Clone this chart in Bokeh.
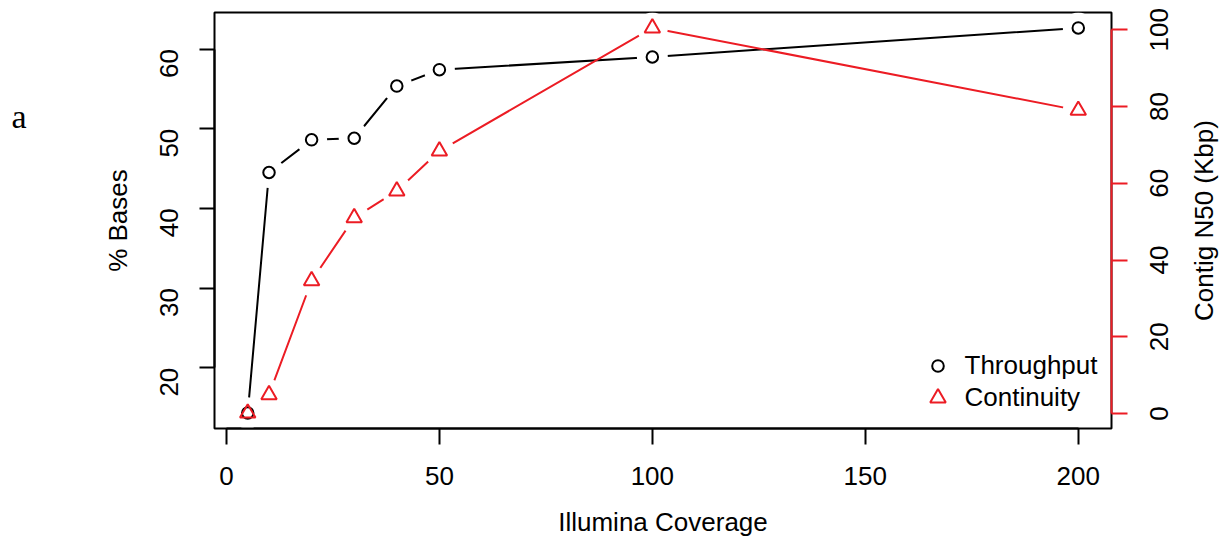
import math
from bokeh.plotting import figure
from bokeh.layouts import row
from bokeh.models import (Range1d, LinearAxis, FixedTicker, Legend, LegendItem,
                          LabelSet, ColumnDataSource)
from bokeh.core.properties import value
from bokeh.embed import file_html
from bokeh.resources import INLINE

# ---- data ----
coverage = [5, 10, 20, 30, 40, 50, 100, 200]
throughput = [14.3, 44.5, 48.6, 48.8, 55.35, 57.4, 59.0, 62.65]   # % Bases
continuity = [0.1, 4.9, 34.6, 51.0, 58.0, 68.4, 100.5, 79.0]      # Contig N50 (Kbp)

x_ticks = [0, 50, 100, 150, 200]
left_ticks = [20, 30, 40, 50, 60]
right_ticks = [0, 20, 40, 60, 80, 100]

x_title = "Illumina Coverage"
left_title = "% Bases"
right_title = "Contig N50 (Kbp)"
series_names = ["Throughput", "Continuity"]
panel_letter = "a"

FONT = "Liberation Sans"
FSZ = 26
FS = f"{FSZ}px"
DIGIT_EM = 0.5562            # advance width of a digit in Liberation Sans
RED = "#EC1C24"

# page layout: [letter strip | main plot | right title strip]
W, H = 1223, 542
FL, FR = 214, 1111           # frame left/right on the page
BT, BB = 12, 114
FW, FH = FR - FL, H - BT - BB
WA = 60                      # letter strip width
PR_START = 1191              # where the right title strip starts on the page
WM = PR_START - WA           # main figure width
WR = W - PR_START            # right strip width


def r_range(vals):
    lo, hi = min(vals), max(vals)
    d = (hi - lo) * 0.04
    return lo - d, hi + d


xlo, xhi = r_range(coverage)
ylo, yhi = r_range(throughput)
clo, chi = r_range(continuity)

p = figure(width=WM, height=H, output_backend="svg", toolbar_location=None,
           x_range=Range1d(xlo, xhi), y_range=Range1d(ylo, yhi),
           min_border_left=FL - WA, min_border_right=PR_START - FR, min_border_top=BT,
           min_border_bottom=BB, background_fill_color="white",
           border_fill_color="white")
p.grid.visible = False
p.outline_line_color = "black"
p.outline_line_width = 2
p.extra_y_ranges = {"n50": Range1d(clo, chi)}


def style_axis(ax, ticks, bounds, label, tick_out, std, lab_std, color="black"):
    ax.ticker = FixedTicker(ticks=ticks)
    if bounds is not None:
        ax.bounds = bounds
    ax.axis_label = label
    ax.major_tick_out = tick_out
    ax.major_tick_in = 0
    ax.minor_tick_out = 0
    ax.minor_tick_in = 0
    ax.major_tick_line_width = 2
    ax.major_tick_line_color = color
    ax.axis_line_width = 2
    ax.axis_line_color = color
    ax.major_label_standoff = std
    ax.axis_label_standoff = lab_std
    ax.major_label_text_font = FONT
    ax.major_label_text_font_size = FS
    ax.major_label_text_color = "black"
    ax.axis_label_text_font = FONT
    ax.axis_label_text_font_size = FS
    ax.axis_label_text_font_style = "normal"
    ax.axis_label_text_color = "black"


xa = p.xaxis[0]
style_axis(xa, x_ticks, (0, 200), x_title, 16, 22, 19)

ya = p.yaxis[0]
style_axis(ya, left_ticks, (20, 60), left_title, 15, 30, 16)
ya.major_label_orientation = math.pi / 2

# red right axis: line + ticks only
ra = LinearAxis(y_range_name="n50")
style_axis(ra, right_ticks, (0, 100), None, 16, 0, 0, color=RED)
ra.major_label_overrides = {v: "" for v in right_ticks}
p.add_layout(ra, "right")

# second right axis carrying only the numbers, reading upwards.  On this side
# Bokeh starts a rotated number at its tick, so each anchor is moved down by
# half the number's length to centre it on its tick.
k = FH / (chi - clo)                       # pixels per Kbp
right_labels = [str(v) for v in right_ticks]
label_pos = [v - len(s) * DIGIT_EM * FSZ / 2 / k for v, s in zip(right_ticks, right_labels)]
ra2 = LinearAxis(y_range_name="n50")
style_axis(ra2, label_pos, None, None, 16, 16, 0, color="white")
ra2.axis_line_color = None
ra2.major_label_overrides = {pos: s for pos, s in zip(label_pos, right_labels)}
ra2.major_label_orientation = math.pi / 2
p.add_layout(ra2, "right")

# lines
p.line(coverage, throughput, line_color="black", line_width=2)
p.line(coverage, continuity, line_color=RED, line_width=2, y_range_name="n50")
# gaps around points (type="b" look)
p.scatter(coverage, throughput, size=31, marker="circle", fill_color="white", line_color=None)
p.scatter(coverage, continuity, size=31, marker="circle", fill_color="white", line_color=None,
          y_range_name="n50")
# markers
r1 = p.scatter(coverage, throughput, size=11.5, marker="circle", fill_color=None,
               line_color="black", line_width=2)
r2 = p.scatter(coverage, continuity, size=15.5, marker="triangle", fill_color=None,
               line_color=RED, line_width=2, y_range_name="n50")

# legend (no box), one legend per entry so that each symbol keeps its size
leg1 = Legend(items=[LegendItem(label=series_names[0], renderers=[r1])],
              location=(708.5, 47.5), border_line_color=None, background_fill_alpha=0,
              padding=0, margin=0, spacing=0, glyph_width=29, glyph_height=31,
              label_height=31, label_standoff=13,
              label_text_font=FONT, label_text_font_size=FS, label_text_color="black")
leg2 = Legend(items=[LegendItem(label=series_names[1], renderers=[r2])],
              location=(703.5, 11.5), border_line_color=None, background_fill_alpha=0,
              padding=0, margin=0, spacing=0, glyph_width=39, glyph_height=39,
              label_height=39, label_standoff=8,
              label_text_font=FONT, label_text_font_size=FS, label_text_color="black")
p.add_layout(leg1)
p.add_layout(leg2)


def strip(width, x_range, y_range):
    f = figure(width=width, height=H, output_backend="svg", toolbar_location=None,
               x_range=x_range, y_range=y_range,
               x_axis_location=None, y_axis_location=None, min_border=0,
               min_border_left=0, min_border_right=0, min_border_top=BT,
               min_border_bottom=BB, background_fill_color="white",
               border_fill_color="white")
    f.grid.visible = False
    f.outline_line_color = None
    return f


# letter strip (pixel coordinates: x from page left, y up from frame bottom)
pa = strip(WA, Range1d(0, WA), Range1d(0, FH))
asrc = ColumnDataSource(dict(x=[11], y=[BT + FH - 127], t=[panel_letter]))
pa.add_layout(LabelSet(x="x", y="y", text="t", source=asrc,
                       text_font=value("Liberation Serif"), text_font_size=value("34px"),
                       text_baseline="alphabetic", text_align="left", text_color="black"))

# right strip: the N50 axis title, reading upwards
pr = strip(WR, Range1d(0, WR), Range1d(clo, chi))
tsrc = ColumnDataSource(dict(x=[1212 - PR_START], y=[(clo + chi) / 2], t=[right_title]))
pr.add_layout(LabelSet(x="x", y="y", text="t", source=tsrc, angle=math.pi / 2,
                       text_align="center", text_baseline="alphabetic",
                       text_font=value(FONT), text_font_size=value(FS),
                       text_color="black"))

layout = row(pa, p, pr, spacing=0)
open("out.html", "w").write(file_html(layout, INLINE))
